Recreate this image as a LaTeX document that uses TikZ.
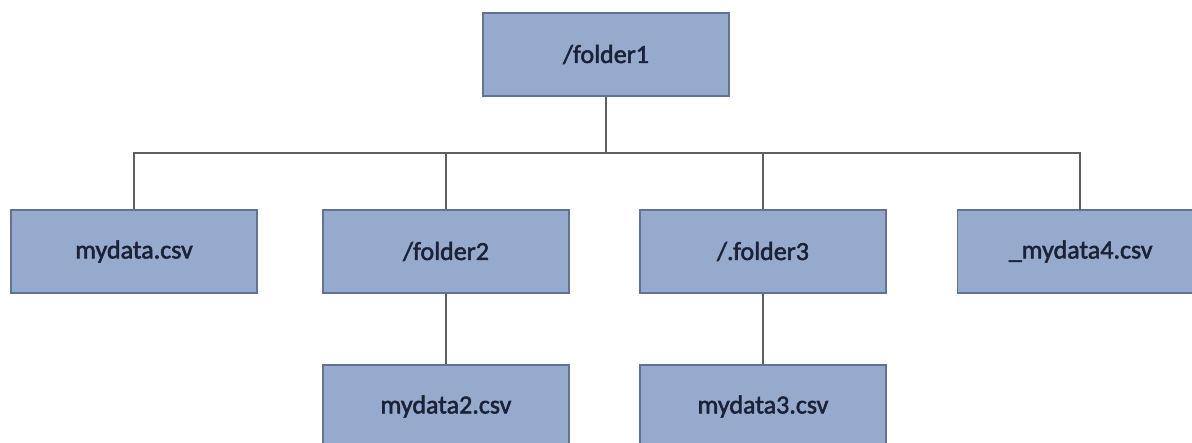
\documentclass[tikz,border=0pt]{standalone}
\usepackage{fontspec}
\setmainfont{Carlito}
\newfontfamily\boxfont{Carlito}[FakeBold=2]
\definecolor{boxfill}{RGB}{150,170,205}
\definecolor{boxedge}{RGB}{98,114,150}
\definecolor{wire}{RGB}{95,95,95}
\definecolor{label}{RGB}{28,34,54}
\begin{document}
\begin{tikzpicture}[x=1pt,y=-1pt,
  filebox/.style={draw=boxedge, fill=boxfill, line width=1.4pt,
    minimum width=246pt, minimum height=83pt, inner sep=0pt,
    font=\boxfont\fontsize{26}{30}\selectfont, text=label},
  wire/.style={draw=wire, line width=2pt}]
  \useasboundingbox (0,0) rectangle (1192,443);
  \clip (0,0) rectangle (1192,443);
  \fill[white] (0,0) rectangle (1192,443);

  % root folder
  \node[filebox] (f1) at (606,54.5) {/folder1};

  % first level
  \node[filebox] (d1) at (134,251.5) {mydata.csv};
  \node[filebox] (f2) at (446,251.5) {/folder2};
  \node[filebox] (f3) at (763,251.5) {/.folder3};
  % the last box runs on past the right margin
  \node[filebox, minimum width=320pt, anchor=west] (d4) at (957,251.5)
       {\hspace*{-74pt}\_mydata4.csv};
  \coordinate (d4top) at (1080,210);

  % second level
  \node[filebox] (d2) at (446,406.5) {mydata2.csv};
  \node[filebox] (d3) at (763,406.5) {mydata3.csv};

  % bus joining the root to its children
  \coordinate (bus) at (606,153);
  \draw[wire] (f1.south) -- (bus);
  \draw[wire] (d1.north) |- (bus) -| (d4top);
  \draw[wire] (f2.north) -- (f2.north |- bus);
  \draw[wire] (f3.north) -- (f3.north |- bus);

  % children of the sub-folders
  \draw[wire] (f2.south) -- (d2.north);
  \draw[wire] (f3.south) -- (d3.north);
\end{tikzpicture}
\end{document}
